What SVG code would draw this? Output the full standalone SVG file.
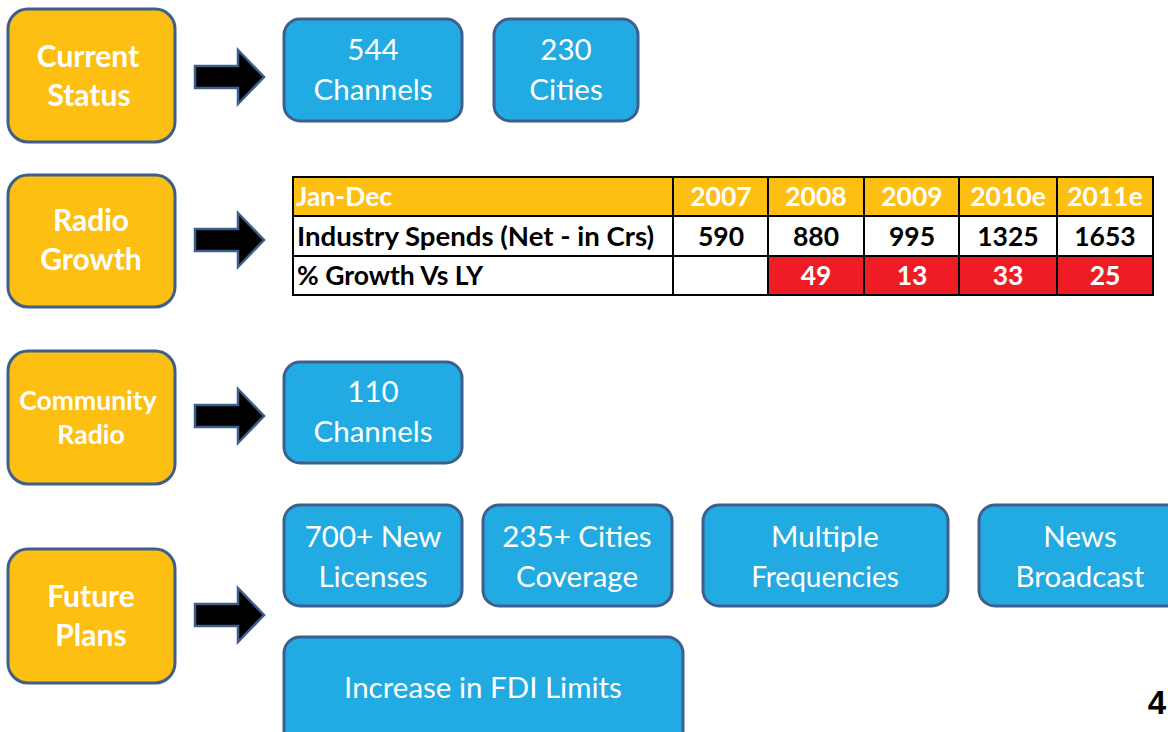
<svg xmlns="http://www.w3.org/2000/svg" width="1168" height="732" viewBox="0 0 1168 732">
<style>
.ob{fill:#FCBF12;stroke:#3E5F8C;stroke-width:3}
.bb{fill:#22ABE2;stroke:#3E5F8C;stroke-width:3}
.ot{font-family:Lato,"Open Sans",sans-serif;font-weight:bold;fill:#fff;font-size:30px;text-anchor:middle}
.bt{font-family:Lato,"Open Sans",sans-serif;fill:#fff;font-size:29.5px;text-anchor:middle}
.arr{fill:#000;stroke:#3E5F8C;stroke-width:2.5;stroke-linejoin:miter}
.th{font-family:Lato,"Open Sans",sans-serif;font-weight:bold;font-size:26.5px;fill:#fff}
.td{font-family:Lato,"Open Sans",sans-serif;font-weight:bold;font-size:26.5px;fill:#000}
.c{text-anchor:middle}
.grid{stroke:#000;stroke-width:2;fill:none}
</style>
<rect width="1168" height="732" fill="#fff"/>
<g id="connectors">
<path class="arr" d="M195 66 H238 V50 L264 77 L238 104 V88 H195 Z"/>
<path class="arr" d="M195 229 H238 V213 L264 240 L238 267 V251 H195 Z"/>
<path class="arr" d="M195 405 H238 V389 L264 416 L238 443 V427 H195 Z"/>
<path class="arr" d="M195 604 H238 V588 L264 615 L238 642 V626 H195 Z"/>
</g>
<g id="current-status">
<rect class="ob" x="8" y="9" width="167" height="133" rx="20"/>
<text class="ot" x="88" y="67">Current</text>
<text class="ot" x="89" y="106">Status</text>
</g>
<g id="radio-growth">
<rect class="ob" x="8" y="175" width="167" height="132" rx="20"/>
<text class="ot" x="91" y="231">Radio</text>
<text class="ot" x="91" y="270">Growth</text>
</g>
<g id="community-radio">
<rect class="ob" x="8" y="351" width="167" height="133" rx="20"/>
<text class="ot" x="88" y="410" style="font-size:26.5px">Community</text>
<text class="ot" x="91" y="444" style="font-size:26.5px">Radio</text>
</g>
<g id="future-plans">
<rect class="ob" x="8" y="549" width="167" height="134" rx="20"/>
<text class="ot" x="91" y="607">Future</text>
<text class="ot" x="91" y="646">Plans</text>
</g>
<g id="channels-544">
<rect class="bb" x="284" y="19" width="178" height="102" rx="16"/>
<text class="bt" x="373" y="60">544</text>
<text class="bt" x="373" y="100">Channels</text>
</g>
<g id="cities-230">
<rect class="bb" x="494" y="19" width="144" height="102" rx="16"/>
<text class="bt" x="566" y="60">230</text>
<text class="bt" x="566" y="100">Cities</text>
</g>
<g id="growth-table">
<rect x="293" y="177" width="860" height="39" fill="#FCBF12"/>
<rect x="768" y="256" width="385" height="39" fill="#EE1C24"/>
<rect class="grid" x="293" y="177" width="860" height="118"/>
<line class="grid" x1="293" y1="216" x2="1153" y2="216"/>
<line class="grid" x1="293" y1="256" x2="1153" y2="256"/>
<line class="grid" x1="673" y1="177" x2="673" y2="295"/>
<line class="grid" x1="768" y1="177" x2="768" y2="295"/>
<line class="grid" x1="864" y1="177" x2="864" y2="295"/>
<line class="grid" x1="959" y1="177" x2="959" y2="295"/>
<line class="grid" x1="1057" y1="177" x2="1057" y2="295"/>
<text class="th" x="296" y="206">Jan-Dec</text>
<text class="th c" x="721" y="206">2007</text>
<text class="th c" x="816" y="206">2008</text>
<text class="th c" x="912" y="206">2009</text>
<text class="th c" x="1008" y="206">2010e</text>
<text class="th c" x="1105" y="206">2011e</text>
<text class="td" x="297" y="246" textLength="357" lengthAdjust="spacingAndGlyphs">Industry Spends (Net - in Crs)</text>
<text class="td c" x="721" y="246">590</text>
<text class="td c" x="816" y="246">880</text>
<text class="td c" x="912" y="246">995</text>
<text class="td c" x="1008" y="246">1325</text>
<text class="td c" x="1105" y="246">1653</text>
<text class="td" x="297" y="285">% Growth Vs LY</text>
<text class="th c" x="816" y="285">49</text>
<text class="th c" x="912" y="285">13</text>
<text class="th c" x="1008" y="285">33</text>
<text class="th c" x="1105" y="285">25</text>
</g>
<g id="channels-110">
<rect class="bb" x="284" y="362" width="178" height="101" rx="16"/>
<text class="bt" x="373" y="402">110</text>
<text class="bt" x="373" y="442">Channels</text>
</g>
<g id="new-licenses">
<rect class="bb" x="284" y="505" width="178" height="101" rx="16"/>
<text class="bt" x="373" y="547">700+ New</text>
<text class="bt" x="373" y="587">Licenses</text>
</g>
<g id="cities-coverage">
<rect class="bb" x="483" y="505" width="189" height="101" rx="16"/>
<text class="bt" x="577" y="547">235+ Cities</text>
<text class="bt" x="577" y="587">Coverage</text>
</g>
<g id="multiple-frequencies">
<rect class="bb" x="703" y="505" width="245" height="101" rx="16"/>
<text class="bt" x="825" y="547">Multiple</text>
<text class="bt" x="825" y="587" style="font-size:28px">Frequencies</text>
</g>
<g id="news-broadcast">
<rect class="bb" x="979" y="505" width="215" height="101" rx="16"/>
<text class="bt" x="1080" y="547">News</text>
<text class="bt" x="1080" y="587">Broadcast</text>
</g>
<g id="fdi-limits">
<rect class="bb" x="284" y="637" width="399" height="120" rx="16"/>
<text class="bt" x="483" y="698">Increase in FDI Limits</text>
</g>
<text x="1166" y="714" font-family="Liberation Sans,Arial,sans-serif" font-weight="bold" font-size="33" fill="#000" text-anchor="end">4</text>
</svg>
